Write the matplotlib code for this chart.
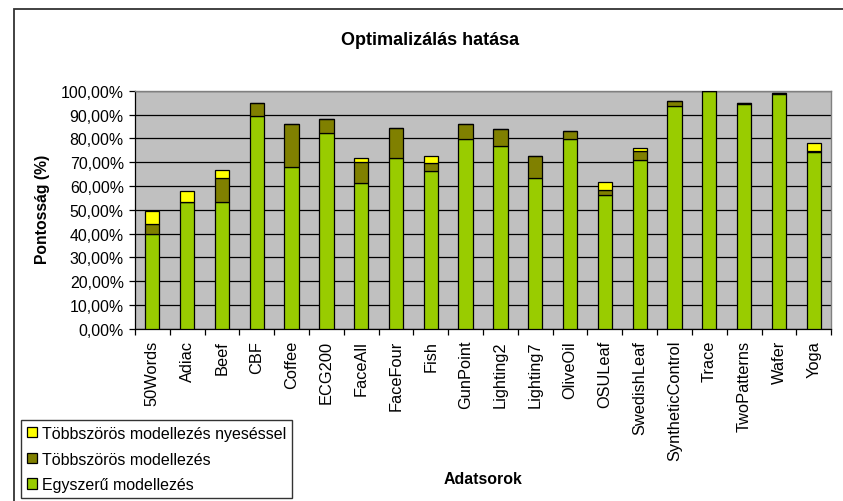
import numpy as np
import matplotlib.pyplot as plt
import matplotlib.patches as patches

plt.rcParams['font.family'] = ['Liberation Sans', 'DejaVu Sans']

# adatsorok és pontosságok (%)
datasets = ["50Words", "Adiac", "Beef", "CBF", "Coffee", "ECG200", "FaceAll",
            "FaceFour", "Fish", "GunPoint", "Lighting2", "Lighting7", "OliveOil",
            "OSULeaf", "SwedishLeaf", "SyntheticControl", "Trace", "TwoPatterns",
            "Wafer", "Yoga"]
simple = [40.0, 53.1, 53.1, 89.5, 67.8, 82.1, 61.1, 71.6, 66.2, 79.6,
          76.9, 63.2, 79.7, 56.3, 71.0, 93.6, 100.0, 94.3, 98.5, 74.4]
multiple = [44.1, 53.1, 63.2, 94.8, 86.0, 88.0, 70.0, 84.3, 69.5, 86.0,
            83.8, 72.8, 83.2, 58.4, 74.8, 95.8, 100.0, 94.7, 98.9, 74.8]
pruned = [49.4, 57.8, 66.9, 94.8, 86.0, 88.0, 71.6, 84.3, 72.7, 86.0,
          83.8, 72.8, 83.2, 61.5, 75.8, 95.8, 100.0, 94.7, 98.9, 78.0]

labels = ["Egyszerű modellezés", "Többszörös modellezés",
          "Többszörös modellezés nyeséssel"]
colors = ["#99CC00", "#808000", "#FFFF00"]

simple = np.array(simple)
multiple = np.array(multiple)
pruned = np.array(pruned)
x = np.arange(len(datasets))

fig = plt.figure(figsize=(8.43, 5.02), dpi=100)
ax = fig.add_axes([0.160, 0.343, 0.826, 0.474])
ax.set_facecolor("#C0C0C0")

w = 0.41
b1 = ax.bar(x, simple, w, color=colors[0], edgecolor="black", linewidth=0.9, zorder=3)
b2 = ax.bar(x, multiple - simple, w, bottom=simple, color=colors[1],
            edgecolor="black", linewidth=0.9, zorder=3)
b3 = ax.bar(x, pruned - multiple, w, bottom=multiple, color=colors[2],
            edgecolor="black", linewidth=0.9, zorder=3)

ax.set_xlim(-0.5, len(datasets) - 0.5)
ax.set_ylim(0, 100)
ax.set_yticks(np.arange(0, 101, 10))
ax.set_yticklabels([f"{v:.2f}%".replace(".", ",") for v in range(0, 101, 10)],
                   fontsize=11.4)
ax.yaxis.grid(True, color="black", linewidth=0.9, zorder=1)
ax.set_axisbelow(True)

# osztásjelek a kategóriák határán
ax.set_xticks(np.arange(-0.5, len(datasets), 1.0))
ax.set_xticklabels([])
ax.set_xticks(x, minor=True)
ax.set_xticklabels(datasets, minor=True, rotation=90, fontsize=11.8)
ax.tick_params(axis="x", which="minor", length=0, pad=8)
ax.tick_params(axis="x", which="major", length=4, width=0.9, direction="out")
ax.tick_params(axis="y", length=4, width=0.9, direction="out", pad=4)

for side in ["top", "right"]:
    ax.spines[side].set_color("#808080")
    ax.spines[side].set_linewidth(1.0)
for side in ["left", "bottom"]:
    ax.spines[side].set_color("black")
    ax.spines[side].set_linewidth(0.9)

fig.text(0.510, 0.920, "Optimalizálás hatása", ha="center", va="center",
         fontsize=13, fontweight="bold")
fig.text(0.050, 0.582, "Pontosság (%)", ha="center", va="center", rotation=90,
         fontsize=11.3, fontweight="bold")
fig.text(0.573, 0.044, "Adatsorok", ha="center", va="center",
         fontsize=11.4, fontweight="bold")

# külső keret
fig.patches.append(patches.Rectangle((14 / 843, -0.1), 1.2, 1.1 - 10 / 502,
                                     transform=fig.transFigure, fill=False,
                                     edgecolor="#333333", linewidth=1.3))

leg = fig.legend([b3, b2, b1], labels[::-1], loc="lower left",
                 bbox_to_anchor=(21 / 843, 3 / 502), fontsize=11.5,
                 frameon=True, fancybox=False, handlelength=0.65, handleheight=0.65,
                 handletextpad=0.3, borderaxespad=0, borderpad=0.35,
                 labelspacing=0.68)
leg.get_frame().set_edgecolor("black")
leg.get_frame().set_linewidth(1.0)

plt.savefig("out.png", dpi=100)
